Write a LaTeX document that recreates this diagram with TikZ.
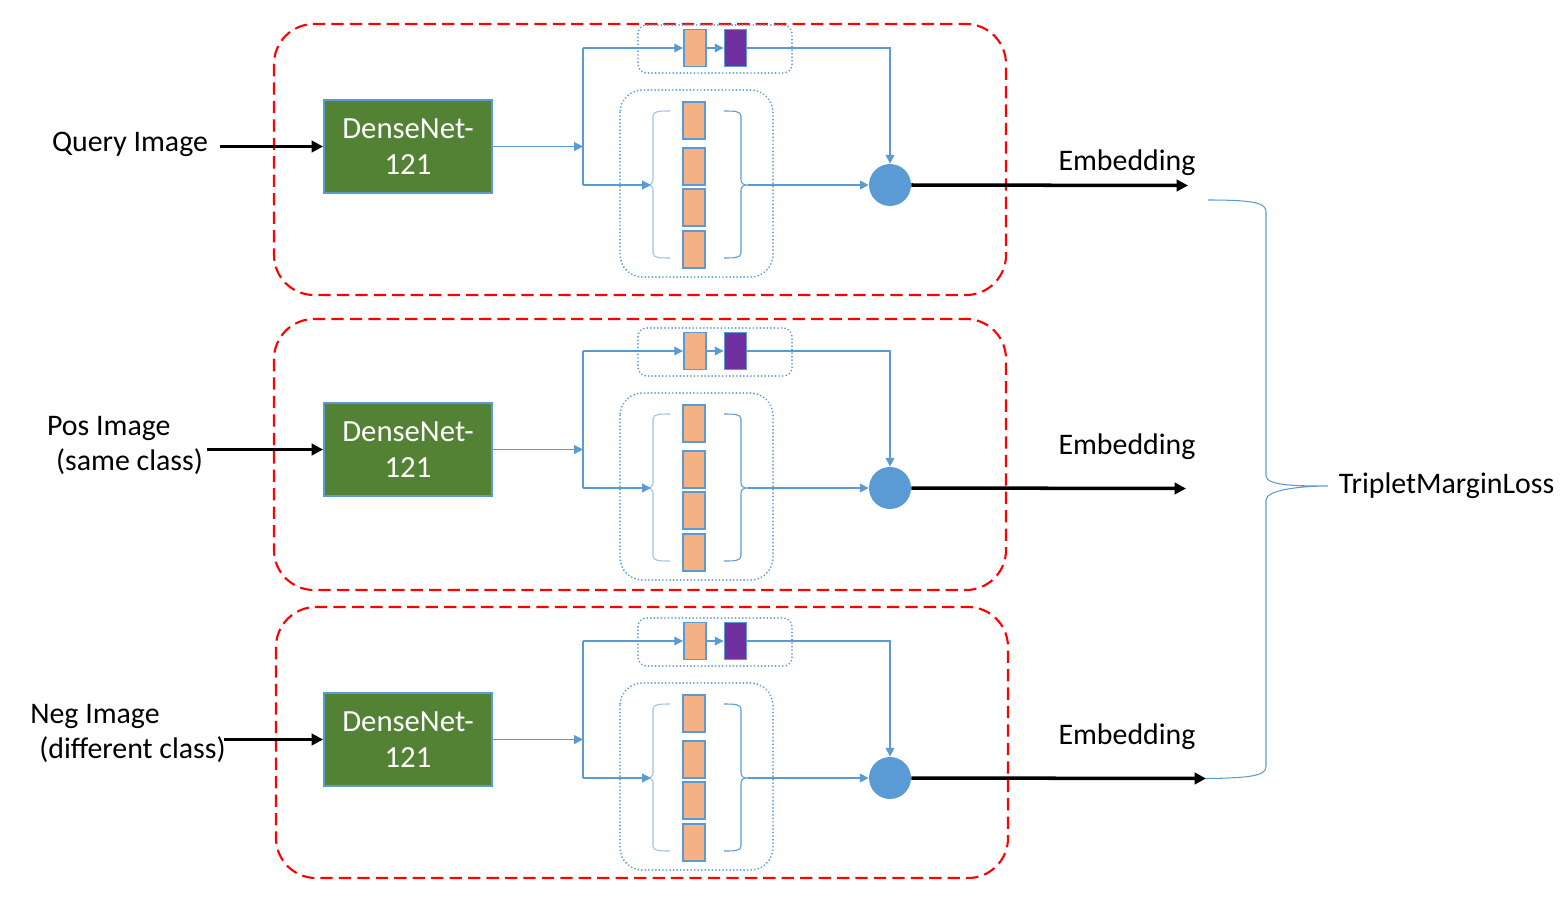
\documentclass[tikz,border=0pt]{standalone}
\usepackage{fontspec}
\setmainfont{Carlito}
\usepackage{tikz}
\usetikzlibrary{arrows.meta,positioning}

\definecolor{netblue}{HTML}{5B9BD5}
\definecolor{netgreen}{HTML}{548235}
\definecolor{cellorange}{HTML}{F4B183}
\definecolor{cellpurple}{HTML}{7030A0}
\definecolor{bracelight}{HTML}{9DC3E6}

\begin{document}
\begin{tikzpicture}[x=0.02cm, y=-0.02cm,
    wire/.style={draw=netblue, line width=0.6pt},
    tip/.style={-{Triangle[length=5pt,width=5pt]}},
    feed/.style={line width=2pt, -{Triangle[length=6.5pt,width=6.5pt]}},
    redbox/.style={draw=red, line width=1.2pt, dash pattern=on 7pt off 3.5pt, rounded corners=0.8cm},
    dotbox/.style={draw=netblue, line width=1.1pt, dash pattern=on 0.01pt off 2pt, line cap=round},
    densenet/.style={draw=netblue, line width=1.1pt, fill=netgreen, text=white, align=center,
        minimum width=3.36cm, minimum height=1.86cm, font=\fontsize{17.5}{20.5}\selectfont},
    cell/.style={draw=netblue, line width=1.1pt, fill=cellorange, inner sep=0pt,
        minimum width=0.44cm, minimum height=0.74cm},
    merge/.style={circle, fill=netblue, inner sep=0pt, minimum size=0.84cm},
    label/.style={font=\fontsize{17}{20}\selectfont, inner sep=2pt}]
    \useasboundingbox (0,0) rectangle (1565,903);

    % one block per image of the triplet
    \foreach \b/\dy/\rx/\ry/\ex/\ey in {q/0/0/0/1188/163, p/303/0/-8/1186/144, n/593/2/-10/1206/144}{
    \begin{scope}[yshift={-\dy*0.02cm}]
        \draw[redbox] ({274+\rx},{24+\ry}) rectangle ({1006+\rx},{295+\ry});
        \draw[dotbox, rounded corners=5pt] (638,25) rectangle (792,73);
        \draw[dotbox, rounded corners=0.45cm] (620,90) rectangle (773,277);

        \node[densenet] (dn\b) at (408,146.5) {DenseNet-\\121};
        \node[cell] (t1\b) at (695,48) {};
        \node[cell, fill=cellpurple] (t2\b) at (735.5,48) {};
        \foreach \i/\y in {1/120.5, 2/166.5, 3/207.5, 4/249.5}
            \node[cell] (c\i\b) at (694,\y) {};
        \node[merge] (m\b) at (890,185) {};

        \coordinate (s\b) at (583,146.5);
        \coordinate (up\b) at (583,48);
        \coordinate (lo\b) at (583,185);
        \coordinate (lb\b) at (651,185);
        \coordinate (rb\b) at (748,185);
        \coordinate (e\b) at (\ex,185.5);

        % brackets round the column of cells
        \draw[wire, draw=bracelight] (670,111) .. controls (660,111) and (653,111) .. (653,116)
            -- (653,180) .. controls (653,184) and (650,185) .. (646,185)
            .. controls (650,185) and (653,186) .. (653,190) -- (653,253)
            .. controls (653,258) and (660,258) .. (670,258);
        \draw[wire] (724,111) .. controls (734,111) and (741,111) .. (741,116)
            -- (741,180) .. controls (741,184) and (744,185) .. (rb\b)
            .. controls (744,185) and (741,186) .. (741,190) -- (741,253)
            .. controls (741,258) and (734,258) .. (724,258);

        \draw[wire, tip] (dn\b.east) -- (s\b);
        \draw[wire] (up\b) -- (lo\b);
        \draw[wire, tip] (up\b) -- (t1\b.west);
        \draw[wire, tip] (t1\b) -- (t2\b);
        \draw[wire, tip] (t2\b.east) -| (m\b.north);
        \draw[wire, tip] (lo\b) -- (lb\b);
        \draw[wire, tip] (rb\b) -- (m\b.west);
        \draw[feed] (m\b.east) -- (e\b);
        \node[label] (emb\b) at (1127,\ey) {Embedding};
    \end{scope}
    }

    % inputs
    \node[label] (inq) at (130,144) {Query Image};
    \node[label, align=left] (inp) at (125,445.5) {Pos Image\\\hspace*{0.3em}(same class)};
    \node[label, align=left] (inn) at (128,733.5) {Neg Image\\\hspace*{0.3em}(different class)};
    \draw[feed] (inq.east |- dnq.west) ++(8,0) -- (dnq.west);
    \draw[feed] (inp.east |- dnp.west) -- (dnp.west);
    \draw[feed] (inn.east |- dnn.west) ++(-6,0) -- (dnn.west);

    % loss brace
    \node[label, anchor=west, inner sep=6pt] (loss) at (1328,486) {TripletMarginLoss};
    \coordinate (bt) at (1208,200);
    \draw[wire] (bt) .. controls (1255,200) and (1266,203) .. (1266,212) -- (1266,476)
        .. controls (1266,486) and (1300,486) .. (loss.west)
        .. controls (1300,486) and (1266,490) .. (1266,500) -- (1266,766)
        .. controls (1266,775) and (1255,778) .. (en);
\end{tikzpicture}
\end{document}
